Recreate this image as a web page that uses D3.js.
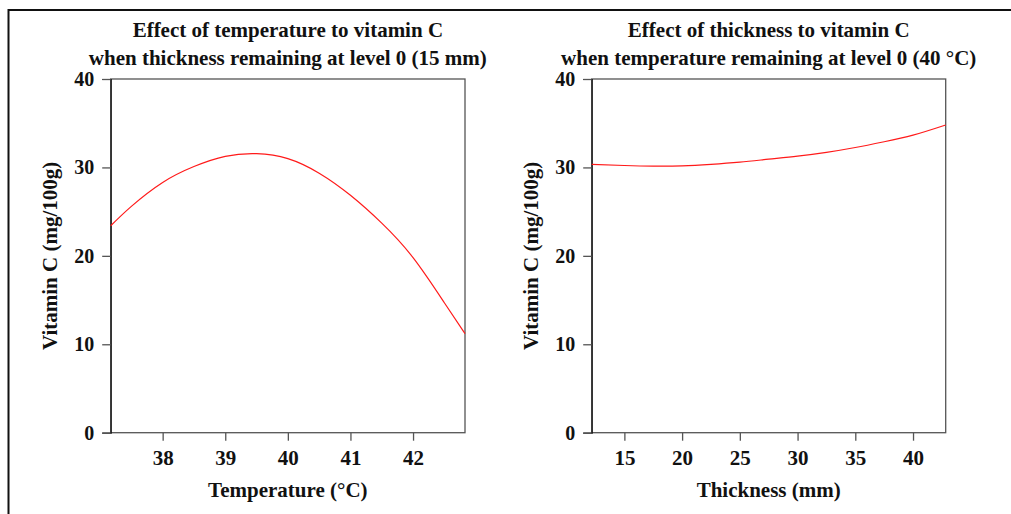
<!DOCTYPE html>
<html>
<head>
<meta charset="utf-8">
<script src="https://cdn.jsdelivr.net/npm/d3@7"></script>
<style>
  html, body { margin: 0; padding: 0; background: #fff; }
  svg { display: block; }
  text { font-family: "Liberation Serif", "Times New Roman", serif; font-weight: bold; fill: #111; }
</style>
</head>
<body>
<svg id="chart" width="1011" height="514"></svg>
<script>
// Temperature response (thickness held at level 0, 15 mm)
const tempX = [37.17, 37.5, 38.0, 38.5, 39.0, 39.5, 40.0, 40.5, 41.0, 41.5, 42.0, 42.5, 42.83];
const tempVitC = [23.4, 25.6, 28.3, 30.1, 31.25, 31.55, 31.0, 29.35, 26.85, 23.7, 19.8, 14.7, 11.2];
const tempTicks = [38, 39, 40, 41, 42];
const tempDomain = [37.17, 42.83];

// Thickness response (temperature held at level 0, 40 °C)
const thickX = [12.17, 15, 17.5, 20, 22.5, 25, 27.5, 30, 32.5, 35, 37.5, 40, 42.83];
const thickVitC = [30.35, 30.22, 30.15, 30.18, 30.35, 30.6, 30.93, 31.27, 31.7, 32.25, 32.9, 33.65, 34.8];
const thickTicks = [15, 20, 25, 30, 35, 40];
const thickDomain = [12.17, 42.83];

const yTicks = [0, 10, 20, 30, 40];
const yDomain = [0, 40];

const panels = [
  {
    left: 110.7, right: 465,
    titles: ["Effect of temperature to vitamin C", "when thickness remaining at level 0 (15 mm)"],
    xLabel: "Temperature (\u00B0C)",
    xs: tempX, ys: tempVitC, ticks: tempTicks, domain: tempDomain
  },
  {
    left: 591.7, right: 945.7,
    titles: ["Effect of thickness to vitamin C", "when temperature remaining at level 0 (40 \u00B0C)"],
    xLabel: "Thickness (mm)",
    xs: thickX, ys: thickVitC, ticks: thickTicks, domain: thickDomain
  }
];

const plotTop = 79, plotBottom = 432.7;
const svg = d3.select("#chart");

// outer frame (top and left edges)
svg.append("line").attr("x1", 8).attr("x2", 1011).attr("y1", 10).attr("y2", 10)
  .attr("stroke", "#111").attr("stroke-width", 2);
svg.append("line").attr("x1", 8.5).attr("x2", 8.5).attr("y1", 9).attr("y2", 514)
  .attr("stroke", "#111").attr("stroke-width", 2);

panels.forEach(p => {
  const x = d3.scaleLinear().domain(p.domain).range([p.left, p.right]);
  const y = d3.scaleLinear().domain(yDomain).range([plotBottom, plotTop]);
  const g = svg.append("g");

  // plot box
  g.append("rect")
    .attr("x", p.left).attr("y", plotTop)
    .attr("width", p.right - p.left).attr("height", plotBottom - plotTop)
    .attr("fill", "none").attr("stroke", "#555").attr("stroke-width", 1.3);

  // y axis
  const yAxis = g.append("g").attr("transform", `translate(${p.left},0)`)
    .call(d3.axisLeft(y).tickValues(yTicks).tickSize(8.5).tickPadding(8).tickFormat(d3.format("d")));
  yAxis.select(".domain").attr("stroke", "#111").attr("stroke-width", 1.2);
  yAxis.selectAll(".tick line").attr("stroke", "#555").attr("stroke-width", 1.3);
  yAxis.selectAll(".tick text").attr("font-size", 20).attr("fill", "#111")
    .attr("font-family", "Liberation Serif, serif").attr("font-weight", "bold");

  // x axis
  const xAxis = g.append("g").attr("transform", `translate(0,${plotBottom})`)
    .call(d3.axisBottom(x).tickValues(p.ticks).tickSize(8).tickPadding(9).tickFormat(d3.format("d")));
  xAxis.select(".domain").remove();
  xAxis.selectAll(".tick line").attr("stroke", "#555").attr("stroke-width", 1.3);
  xAxis.selectAll(".tick text").attr("font-size", 21).attr("fill", "#111")
    .attr("font-family", "Liberation Serif, serif").attr("font-weight", "bold");

  // response curve
  const pts = p.xs.map((v, i) => [v, p.ys[i]]);
  g.append("path")
    .datum(pts)
    .attr("fill", "none")
    .attr("stroke", "#ff1a1a")
    .attr("stroke-width", 1.2)
    .attr("d", d3.line().x(d => x(d[0])).y(d => y(d[1])).curve(d3.curveNatural));

  const cx = (p.left + p.right) / 2;

  // titles
  g.append("text").attr("x", cx).attr("y", 37).attr("text-anchor", "middle")
    .attr("font-size", 21).text(p.titles[0]);
  g.append("text").attr("x", cx).attr("y", 65).attr("text-anchor", "middle")
    .attr("font-size", 21).text(p.titles[1]);

  // x axis title
  g.append("text").attr("x", cx).attr("y", 497).attr("text-anchor", "middle")
    .attr("font-size", 21).text(p.xLabel);

  // y axis title
  g.append("text")
    .attr("transform", `translate(${p.left - 53.5},${(plotTop + plotBottom) / 2}) rotate(-90)`)
    .attr("text-anchor", "middle")
    .attr("font-size", 21).text("Vitamin C (mg/100g)");
});
</script>
</body>
</html>
